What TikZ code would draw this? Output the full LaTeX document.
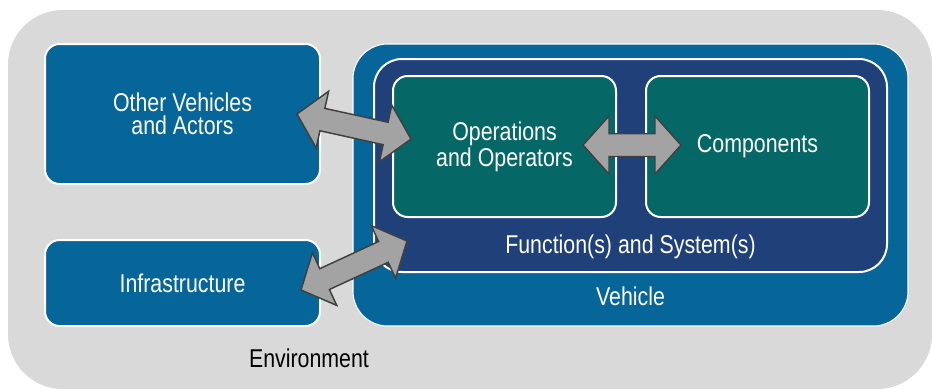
\documentclass[tikz,border=0pt]{standalone}
\usepackage{fontspec}
\setmainfont{Liberation Sans}[FakeStretch=0.83]
\usetikzlibrary{calc}

\definecolor{envgray}{RGB}{217,217,217}
\definecolor{vblue}{RGB}{6,101,153}
\definecolor{fnavy}{RGB}{32,64,122}
\definecolor{opteal}{RGB}{6,104,102}
\definecolor{arrfill}{RGB}{163,163,163}
\definecolor{arrline}{RGB}{64,64,64}

% fat two-headed arrow from #1 to #2
\newcommand{\fatarrow}[2]{%
  \coordinate (fa-p) at ($(#1)!19.5pt!(#2)$);
  \coordinate (fa-q) at ($(#2)!19.5pt!(#1)$);
  \draw[fatarrow] (#1) -- ($(fa-p)!21.75pt!90:(#2)$) -- ($(fa-p)!8.6pt!90:(#2)$)
    -- ($(fa-q)!8.6pt!-90:(#1)$) -- ($(fa-q)!21.75pt!-90:(#1)$) -- (#2)
    -- ($(fa-q)!21.75pt!90:(#1)$) -- ($(fa-q)!8.6pt!90:(#1)$)
    -- ($(fa-p)!8.6pt!-90:(#2)$) -- ($(fa-p)!21.75pt!-90:(#2)$) -- cycle;}

\begin{document}
\begin{tikzpicture}[x=0.75pt, y=-0.75pt, font=\fontsize{19.3}{17.5}\selectfont,
    box/.style = {draw=white, line width=1.5pt, rounded corners=11pt, text=white, align=center},
    outer/.style = {box, fill=vblue, minimum width=206.25pt},
    inner/.style = {box, fill=opteal, minimum width=167.25pt, minimum height=105.75pt},
    txt/.style = {text=white},
    fatarrow/.style = {draw=arrline, fill=arrfill, line width=1.1pt, line join=miter}]
    \useasboundingbox (0,0) rectangle (932,389);
    \fill[envgray, rounded corners=41pt] (8,10) rectangle (932,389);

    \node[outer, minimum height=105pt] (other) at (182.5,114) {Other Vehicles\\and Actors};
    \node[outer, minimum height=64.5pt] (infra) at (182.5,283) {Infrastructure};
    \node[box, fill=vblue, rounded corners=26pt, line width=0.8pt, minimum width=416.25pt, minimum height=211.5pt] (vehicle) at (630.5,185) {};
    \node[box, fill=fnavy, rounded corners=21pt, minimum width=384.75pt, minimum height=159.75pt] (func) at (630.5,165.5) {};
    \node[inner] (ops) at (504.5,146.5) {Operations\\[0.5pt]and Operators};
    \node[inner] (comp) at (757.5,146.5) {Components};
    \node[txt] (funclabel) at ([yshift=19.8pt]func.south) {Function(s) and System(s)};
    \node[txt] (vehlabel) at ([yshift=22.5pt]vehicle.south) {Vehicle};
    \node (envlabel) at (309,358) {Environment};

    \coordinate (a1s) at ([xshift=-18pt]other.east);
    \coordinate (a1e) at ([xshift=14.25pt, yshift=5.6pt]ops.west);
    \coordinate (a2s) at ([xshift=-25.5pt, yshift=1.1pt]ops.east);
    \coordinate (a2e) at ([xshift=27pt, yshift=1.1pt]comp.west);
    \coordinate (a3s) at ([xshift=-15pt, yshift=-5.25pt]infra.east);
    \coordinate (a3e) at ([xshift=25.5pt, yshift=24pt]func.south west);
    \fatarrow{a1s}{a1e}
    \fatarrow{a2s}{a2e}
    \fatarrow{a3s}{a3e}
\end{tikzpicture}
\end{document}
